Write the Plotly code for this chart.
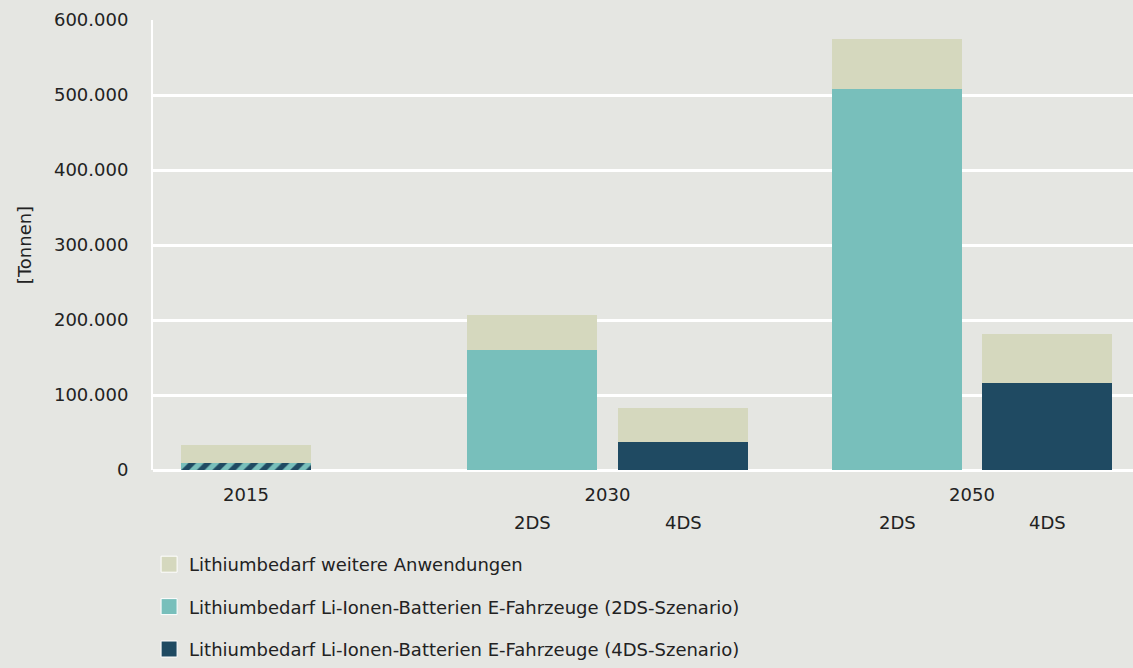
import plotly.graph_objects as go

# ---- data (tonnes of lithium) ----
bar_labels = ["2015", "2030 2DS", "2030 4DS", "2050 2DS", "2050 4DS"]
years = ["2015", "2030", "2050"]
scenarios = ["2DS", "4DS"]
other_apps = [23000, 47000, 46000, 67000, 65000]          # Lithiumbedarf weitere Anwendungen
battery_2015 = [10000]                                     # 2015 (both scenarios)
battery_2ds = [160000, 508000]                             # 2030, 2050
battery_4ds = [37000, 116000]                              # 2030, 2050
legend_names = [
    "Lithiumbedarf weitere Anwendungen",
    "Lithiumbedarf Li-Ionen-Batterien E-Fahrzeuge (2DS-Szenario)",
    "Lithiumbedarf Li-Ionen-Batterien E-Fahrzeuge (4DS-Szenario)",
]

# ---- layout positions (x-axis units) ----
pos_all = [93, 379, 530, 744, 894]
pos_2015 = [pos_all[0]]
pos_2ds = [pos_all[1], pos_all[3]]
pos_4ds = [pos_all[2], pos_all[4]]
year_pos = [93, 454.5, 819]
bar_w = 130

BG = "#E5E6E2"
BEIGE = "#D5D8BE"
TEAL = "#78BFBB"
DARK = "#1F4A62"
TXT = "#222222"
FONT = "DejaVu Sans"

fig = go.Figure()
fig.add_trace(go.Bar(x=pos_2015, y=battery_2015, width=bar_w, showlegend=False,
                     marker=dict(color=TEAL, line=dict(width=0),
                                 pattern=dict(shape="/", fgcolor=DARK, bgcolor=TEAL,
                                              size=11, solidity=0.5, fillmode="replace"))))
fig.add_trace(go.Bar(x=pos_2ds, y=battery_2ds, width=bar_w, showlegend=False,
                     marker=dict(color=TEAL, line=dict(width=0))))
fig.add_trace(go.Bar(x=pos_4ds, y=battery_4ds, width=bar_w, showlegend=False,
                     marker=dict(color=DARK, line=dict(width=0))))
fig.add_trace(go.Bar(x=pos_all, y=other_apps, width=bar_w, showlegend=False,
                     marker=dict(color=BEIGE, line=dict(width=0))))

# legend entries
for i, (name, col) in enumerate(zip(legend_names, [BEIGE, TEAL, DARK])):
    fig.add_trace(go.Scatter(x=[None], y=[None], mode="markers", name=name,
                             legendgroup=f"g{i}",
                             marker=dict(symbol="square", size=19, color=col,
                                         line=dict(color="white", width=1))))

# scenario labels
for p, s in zip(pos_2ds + pos_4ds, ["2DS", "2DS", "4DS", "4DS"]):
    fig.add_annotation(x=p, y=-0.116, xref="x", yref="paper", text=s, showarrow=False,
                       font=dict(family=FONT, size=18, color=TXT), yanchor="middle")

fig.update_layout(
    width=1133, height=668,
    paper_bgcolor=BG, plot_bgcolor=BG,
    barmode="stack",
    separators=",.",
    margin=dict(l=153, r=0, t=20, b=198),
    font=dict(family=FONT, size=18, color=TXT),
    showlegend=True,
    legend=dict(x=-0.004, y=-0.169, xanchor="left", yanchor="top",
                bgcolor="rgba(0,0,0,0)", font=dict(family=FONT, size=18, color=TXT),
                tracegroupgap=16, itemsizing="trace"),
    xaxis=dict(range=[0, 980], tickvals=year_pos, ticktext=years, showgrid=False,
               zeroline=False, showline=False, ticks="outside", ticklen=8,
               tickcolor="rgba(0,0,0,0)", tickfont=dict(size=18)),
    yaxis=dict(range=[0, 600000], tickvals=[0, 100000, 200000, 300000, 400000, 500000, 600000],
               tickformat=",d", showgrid=True, gridcolor="white", gridwidth=2.5,
               zeroline=True, zerolinecolor="white", zerolinewidth=2.5,
               showline=True, linecolor="white", linewidth=2,
               ticks="outside", ticklen=19, tickcolor="rgba(0,0,0,0)",
               tickfont=dict(size=18),
               title=dict(text="[Tonnen]", standoff=18, font=dict(size=18))),
)

fig.write_html("out.html", config={"displayModeBar": False},
               post_script="document.body.style.margin='0';")
